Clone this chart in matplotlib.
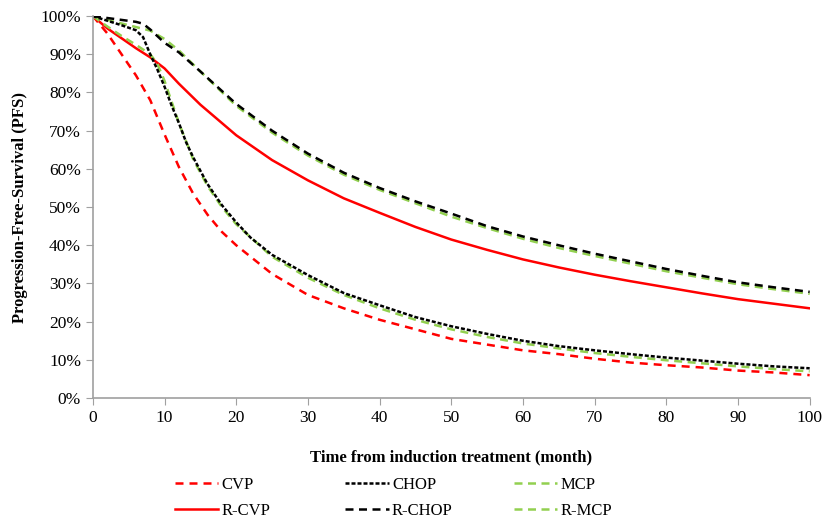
import matplotlib
matplotlib.use('Agg')
import matplotlib.pyplot as plt
from matplotlib.ticker import PercentFormatter

# values (month, PFS %)
cvp_t = [0, 2, 4, 6, 8, 10, 12, 14, 16, 18, 20, 25, 30, 35, 40, 45, 50, 55, 60, 65, 70, 75, 80, 85, 90, 95, 100]
cvp_pfs = [100, 95.5, 90, 84.5, 78, 69, 60.5, 53.5, 48, 43.5, 40, 32.5, 27, 23.5, 20.5, 18, 15.5, 14, 12.5, 11.5, 10.3, 9.3, 8.6, 8, 7.2, 6.7, 6]

rcvp_t = [0, 2, 4, 6, 8, 10, 12, 15, 20, 25, 30, 35, 40, 45, 50, 55, 60, 65, 70, 75, 80, 85, 90, 95, 100]
rcvp_pfs = [100, 96.8, 94.2, 91.6, 89.2, 86.3, 82.3, 76.8, 68.8, 62.3, 57, 52.3, 48.5, 44.8, 41.5, 38.8, 36.3, 34.2, 32.3, 30.6, 29, 27.4, 25.9, 24.7, 23.5]

chop_t = [0, 2, 4, 6, 7, 8, 9, 10, 11, 12, 13, 14, 15, 16, 18, 20, 22, 25, 30, 35, 40, 45, 50, 55, 60, 65, 70, 75, 80, 85, 90, 95, 100]
chop_pfs = [100, 98.8, 97.6, 96.3, 94.5, 90, 86, 81.5, 76.5, 72, 67, 63, 59.5, 56, 50.5, 46, 42, 37.5, 32.2, 27.5, 24.3, 21.2, 18.8, 16.8, 15, 13.6, 12.5, 11.5, 10.6, 9.8, 9, 8.3, 7.8]

rchop_t = [0, 2, 4, 6, 7, 8, 10, 12, 15, 20, 25, 30, 35, 40, 45, 50, 55, 60, 65, 70, 75, 80, 85, 90, 95, 100]
rchop_pfs = [100, 99.5, 99, 98.5, 98, 96.5, 93, 90.5, 85.5, 77, 70, 64, 59, 55, 51.5, 48.3, 45, 42.3, 40, 37.8, 35.8, 33.8, 32, 30.3, 29, 27.8]

mcp_t = [0, 2, 4, 6, 8, 9, 10, 11, 12, 14, 16, 18, 20, 25, 30, 35, 40, 45, 50, 55, 60, 65, 70, 75, 80, 85, 90, 95, 100]
mcp_pfs = [100, 97.3, 94.8, 92.5, 90, 87.5, 83, 77.5, 72, 62.5, 55.5, 50, 45.5, 37, 31.5, 27, 23.5, 20.5, 18, 16, 14.3, 13, 11.8, 10.8, 9.9, 9.1, 8.3, 7.6, 7]

rmcp_t = [0, 2, 5, 8, 10, 12, 15, 20, 25, 30, 35, 40, 45, 50, 55, 60, 65, 70, 75, 80, 85, 90, 95, 100]
rmcp_pfs = [100, 99, 97.6, 96.2, 94, 91, 85.5, 76.5, 69.5, 63.5, 58.5, 54.5, 51, 47.5, 44.5, 41.7, 39.3, 37.2, 35.2, 33.2, 31.5, 29.8, 28.5, 27.3]

plt.rcParams['font.family'] = ['Liberation Serif', 'DejaVu Serif']

red = '#FF0000'
green = '#92D050'
lw = 1.8

fig = plt.figure(figsize=(8.22, 5.19), dpi=100)
ax = fig.add_axes([0.113, 0.233, 0.872, 0.736])

ax.plot(cvp_t, cvp_pfs, color=red, lw=lw, dashes=(3.2, 2.4), label='CVP')
ax.plot(rcvp_t, rcvp_pfs, color=red, lw=lw, label='R-CVP')
ax.plot(mcp_t, mcp_pfs, color=green, lw=lw, dashes=(3.2, 2.2), label='MCP')
ax.plot(rmcp_t, rmcp_pfs, color=green, lw=lw, dashes=(3.2, 2.2), label='R-MCP')
ax.plot(chop_t, chop_pfs, color='black', lw=lw, dashes=(1.6, 0.8), label='CHOP')
ax.plot(rchop_t, rchop_pfs, color='black', lw=lw, dashes=(3.2, 2.2), label='R-CHOP')

ax.set_xlim(0, 100)
ax.set_ylim(0, 100)
ax.set_xticks(range(0, 101, 10))
ax.set_yticks(range(0, 101, 10))
ax.yaxis.set_major_formatter(PercentFormatter(decimals=0))
ax.tick_params(direction='out', length=5, color='#A0A0A0', labelsize=12.5)

for side in ['top', 'right']:
    ax.spines[side].set_visible(False)
for side in ['left', 'bottom']:
    ax.spines[side].set_color('#A0A0A0')
    ax.spines[side].set_linewidth(1.2)

ax.set_xlabel('Time from induction treatment (month)', fontsize=12, fontweight='bold', labelpad=17)
ax.set_ylabel('Progression-Free-Survival (PFS)', fontsize=12, fontweight='bold', labelpad=9)

# legend: three evenly spaced columns like the original
handles, labels = ax.get_legend_handles_labels()
hmap = dict(zip(labels, handles))
columns = [['CVP', 'R-CVP'], ['CHOP', 'R-CHOP'], ['MCP', 'R-MCP']]
col_x = [0.213, 0.420, 0.625]
for names, x in zip(columns, col_x):
    leg = fig.legend([hmap[k] for k in names], names, loc='center left', bbox_to_anchor=(x, 0.040),
                     frameon=False, fontsize=12, handlelength=2.6, handletextpad=0.2,
                     labelspacing=0.6, borderpad=0, borderaxespad=0)

fig.savefig('out.png', dpi=100)
